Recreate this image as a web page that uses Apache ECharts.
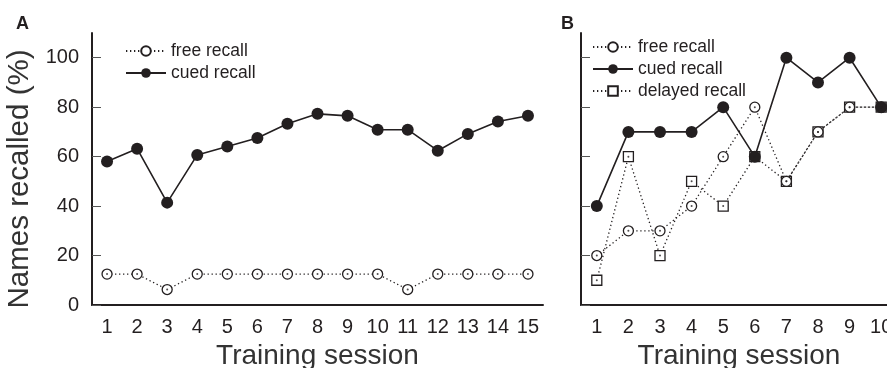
<!DOCTYPE html>
<html><head><meta charset="utf-8">
<script src="https://cdn.jsdelivr.net/npm/echarts@6/dist/echarts.min.js"></script>
<style>html,body{margin:0;padding:0;background:#fff}#c{width:887px;height:368px}</style>
</head><body><div id="c"></div>
<script>
const sessionsA = ['1','2','3','4','5','6','7','8','9','10','11','12','13','14','15'];
const freeA = [12.5,12.5,6.25,12.5,12.5,12.5,12.5,12.5,12.5,12.5,6.25,12.5,12.5,12.5,12.5];
const cuedA = [58,63.2,41.4,60.7,64.1,67.5,73.3,77.3,76.5,70.9,70.9,62.4,69.2,74.2,76.5];
const sessionsB = ['1','2','3','4','5','6','7','8','9','10'];
const freeB = [20,30,30,40,60,80,50,70,80,80];
const cuedB = [40,70,70,70,80,60,100,90,100,80];
const delayedB = [10,60,20,50,40,60,50,70,80,80];
const yTicks = [0,20,40,60,80,100];

const FONT = 'Liberation Sans, Arial, Helvetica, sans-serif';
const INK = '#231f20';

function xAxis(grid, cats) {
  return {
    type: 'category', gridIndex: grid, data: cats, boundaryGap: true,
    axisLine: {lineStyle: {color: INK, width: 2}},
    axisTick: {inside: true, alignWithLabel: true, length: 9, lineStyle: {color: '#555', width: 1}},
    axisLabel: {color: INK, fontSize: 20, fontFamily: FONT, margin: 12, interval: 0},
    name: 'Training session', nameLocation: 'middle', nameGap: 34,
    nameTextStyle: {color: '#333', fontSize: 28, fontFamily: FONT},
    splitLine: {show: false}
  };
}
function yAxis(grid, showLabels) {
  return {
    type: 'value', gridIndex: grid, min: 0, max: 110,
    axisLine: {show: true, lineStyle: {color: INK, width: 2}},
    axisTick: {show: true, inside: true, length: 9, customValues: yTicks, lineStyle: {color: '#555', width: 1}},
    axisLabel: {show: showLabels, customValues: yTicks, color: INK, fontSize: 20, fontFamily: FONT, margin: 13},
    splitLine: {show: false},
    name: showLabels ? 'Names recalled (%)' : '', nameLocation: 'middle', nameRotate: 90, nameGap: 50,
    nameTextStyle: {color: '#333', fontSize: 29.5, fontFamily: FONT, padding: [0, 20, 0, 0]}
  };
}
const dotted = {color: INK, width: 1.3, type: [1.3, 2.7], cap: 'butt'};
function freeSeries(x, data) {
  return {name: 'free recall', type: 'line', xAxisIndex: x, yAxisIndex: x, data: data,
    symbol: 'circle', symbolSize: 10, z: 3,
    itemStyle: {color: '#fff', borderColor: INK, borderWidth: 1.3},
    lineStyle: dotted};
}
function cuedSeries(x, data) {
  return {name: 'cued recall', type: 'line', xAxisIndex: x, yAxisIndex: x, data: data,
    symbol: 'circle', symbolSize: 12, z: 4,
    itemStyle: {color: INK, borderWidth: 0},
    lineStyle: {color: INK, width: 1.6}};
}
function delayedSeries(x, data) {
  return {name: 'delayed recall', type: 'line', xAxisIndex: x, yAxisIndex: x, data: data,
    symbol: 'rect', symbolSize: 10, z: 2,
    itemStyle: {color: '#fff', borderColor: INK, borderWidth: 1.3},
    lineStyle: dotted};
}
function dotSeries(x, data, z) {
  return {type: 'scatter', xAxisIndex: x, yAxisIndex: x, data: data, symbolSize: 2, z: z, silent: true,
    itemStyle: {color: INK}};
}
const legendCommon = {orient: 'vertical', itemWidth: 40, itemHeight: 12, itemGap: 4, padding: 0,
  textStyle: {fontSize: 17.5, fontFamily: FONT, color: INK}, selectedMode: false};

const chart = echarts.init(document.getElementById('c'), null, {renderer: 'canvas'});
chart.setOption({
  animation: false,
  backgroundColor: '#fff',
  title: [
    {text: 'A', left: 11, top: 10, textStyle: {fontSize: 18, fontWeight: 'bold', fontFamily: FONT, color: INK}},
    {text: 'B', left: 556, top: 10, textStyle: {fontSize: 18, fontWeight: 'bold', fontFamily: FONT, color: INK}}
  ],
  grid: [
    {left: 92, right: 344, top: 33, bottom: 63, outerBoundsMode: 'none', containLabel: false},
    {left: 581, right: -10, top: 33, bottom: 63, outerBoundsMode: 'none', containLabel: false}
  ],
  xAxis: [xAxis(0, sessionsA), xAxis(1, sessionsB)],
  yAxis: [yAxis(0, true), yAxis(1, false)],
  legend: [
    Object.assign({left: 125, top: 42, data: ['free recall', 'cued recall']}, legendCommon),
    Object.assign({left: 592, top: 38, data: ['free recall', 'cued recall', 'delayed recall']}, legendCommon)
  ],
  series: [
    freeSeries(0, freeA), cuedSeries(0, cuedA), dotSeries(0, freeA, 5),
    delayedSeries(1, delayedB), freeSeries(1, freeB), cuedSeries(1, cuedB),
    dotSeries(1, delayedB, 5), dotSeries(1, freeB, 5)
  ]
});
</script></body></html>
